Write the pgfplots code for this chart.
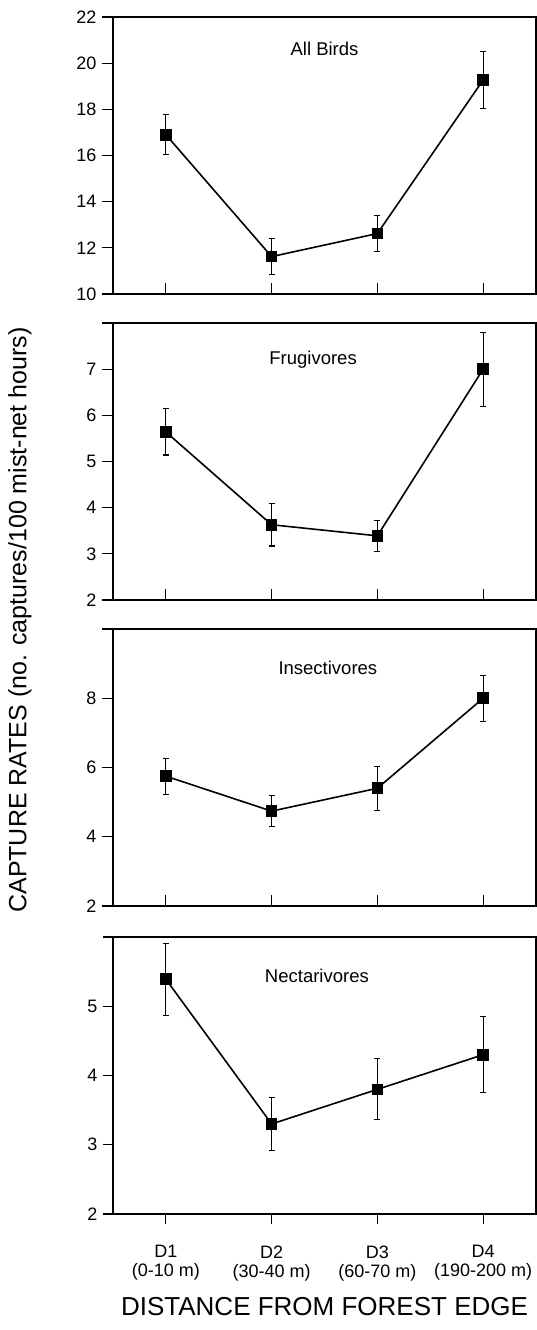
\documentclass[border=0pt]{standalone}
\usepackage{fontspec}
\setmainfont{Liberation Sans}
\usepackage{pgfplots}
\pgfplotsset{compat=1.18}

\pgfplotsset{
  panel/.style={
    scale only axis, width=423pt, height=277pt,
    anchor=north west,
    xmin=0.5, xmax=4.5, xtick={1,2,3,4},
    axis line style={line width=1.1pt},
    tick pos=left,
    ytick align=outside, xtick align=inside,
    major tick length=11pt,
    every tick/.style={black, line width=1.1pt},
    tick label style={font=\fontsize{18}{19}\selectfont},
    yticklabel style={xshift=-2pt},
    /pgf/number format/assume math mode=true,
    clip=false,
    after end axis/.code={\draw[line width=1.9pt] (rel axis cs:0,1) -- (rel axis cs:0,0) -- (rel axis cs:1,0);},
  },
  series/.style={black, line width=1.6pt, mark=square*, mark size=5pt, mark options={solid}},
  errb/.style={error bars/.cd, y dir=both, y explicit,
    error bar style={line width=1.1pt},
    error mark options={rotate=90, mark size=3pt, line width=1.1pt}},
}
\tikzset{ptitle/.style={font=\fontsize{18.5}{20}\selectfont, anchor=center}}

\begin{document}
\begin{tikzpicture}
\useasboundingbox (0,0) rectangle (537pt,-1330pt);

% Panel 1: All Birds
\begin{axis}[panel, at={(113pt,-17pt)},
  ymin=10, ymax=22, ytick={10,12,...,22}, xticklabels={}]
\addplot[series, errb] coordinates {
  (1,16.90) +- (0,0.86)
  (2,11.62) +- (0,0.77)
  (3,12.62) +- (0,0.77)
  (4,19.27) +- (0,1.23)
};
\node[ptitle] at (rel axis cs:0.50,1) [yshift=-32pt] {All Birds};
\end{axis}

% Panel 2: Frugivores
\begin{axis}[panel, at={(113pt,-323pt)},
  ymin=2, ymax=8, ytick={2,...,7}, extra y ticks={8}, extra y tick labels={},
  xticklabels={}]
\addplot[series, errb] coordinates {
  (1,5.64) +- (0,0.50)
  (2,3.63) +- (0,0.46)
  (3,3.39) +- (0,0.34)
  (4,7.00) +- (0,0.80)
};
\node[ptitle] at (rel axis cs:0.473,1) [yshift=-37pt] {Frugivores};
\end{axis}

% Panel 3: Insectivores
\begin{axis}[panel, at={(113pt,-629pt)},
  ymin=2, ymax=10, ytick={2,4,6,8}, extra y ticks={10}, extra y tick labels={},
  xticklabels={}]
\addplot[series, errb] coordinates {
  (1,5.75) +- (0,0.52)
  (2,4.74) +- (0,0.45)
  (3,5.40) +- (0,0.63)
  (4,8.00) +- (0,0.66)
};
\node[ptitle] at (rel axis cs:0.508,1) [yshift=-39pt] {Insectivores};
\end{axis}

% Panel 4: Nectarivores
\begin{axis}[panel, at={(113pt,-937pt)},
  ymin=2, ymax=6, ytick={2,3,4,5}, extra y ticks={6}, extra y tick labels={},
  xtick align=outside, major tick length=10pt,
  xticklabels={{D1\\(0-10 m)},{D2\\(30-40 m)},{D3\\(60-70 m)},{D4\\(190-200 m)}},
  xticklabel style={align=center, yshift=-18pt},
  xlabel={DISTANCE FROM FOREST EDGE},
  xlabel style={font=\fontsize{26}{28}\selectfont, at={(axis description cs:0.5,0)}, anchor=center, yshift=-93pt}]
\addplot[series, errb] coordinates {
  (1,5.39) +- (0,0.52)
  (2,3.30) +- (0,0.38)
  (3,3.80) +- (0,0.44)
  (4,4.30) +- (0,0.55)
};
\node[ptitle] at (rel axis cs:0.482,1) [yshift=-39pt] {Nectarivores};
\end{axis}

\node[rotate=90, font=\fontsize{25}{27}\selectfont] at (20pt,-620pt)
  {CAPTURE RATES (no. captures/100 mist-net hours)};
\end{tikzpicture}
\end{document}
